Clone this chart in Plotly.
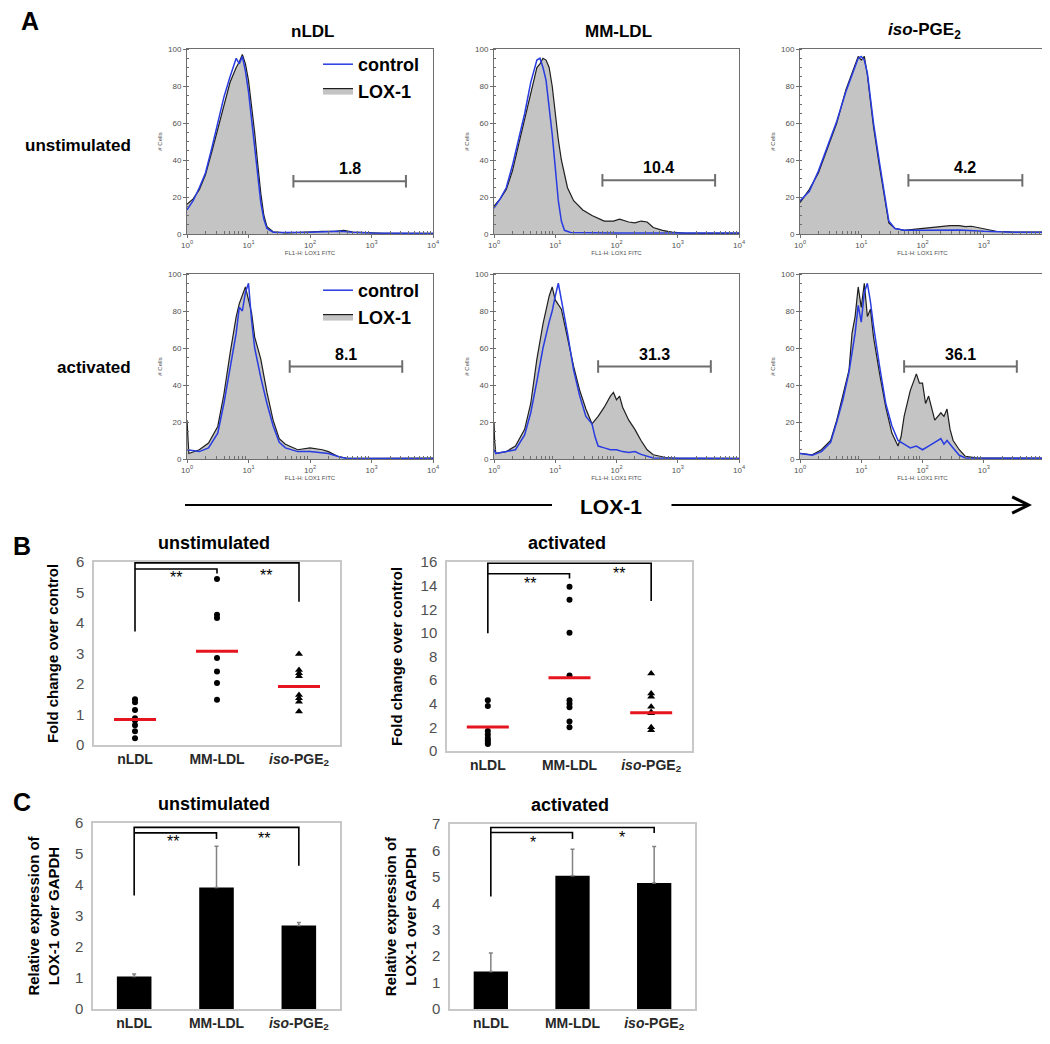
import math
import plotly.graph_objects as go

FONT = "Liberation Sans, Arial, sans-serif"
# page body adds an 8px margin around the figure, so lay out in page pixels
OFF = 8
W, H = 1042, 1036

# ---------------- Panel A: flow cytometry histograms ----------------
# x values are log10 decades of FL1-H fluorescence, y are "# Cells" (% of max)
col_titles = ["nLDL", "MM-LDL", "<i>iso</i>-PGE<sub>2</sub>"]
row_labels = ["unstimulated", "activated"]

# unstimulated, nLDL
h1_lox_x = [0, 0.1, 0.2, 0.3, 0.4, 0.5, 0.6, 0.7, 0.8, 0.85, 0.9, 0.95, 1.0, 1.05, 1.1, 1.15, 1.2, 1.25, 1.3, 1.4, 1.6, 1.8, 2.0, 2.2, 2.4, 2.55, 2.7, 2.9, 3.2, 3.6, 4.0]
h1_lox_y = [16, 19, 24, 32, 44, 57, 70, 82, 90, 93, 97, 92, 83, 70, 55, 38, 22, 10, 4, 1.2, 0.6, 0.8, 1.2, 1.5, 1.4, 2.0, 1.0, 0.6, 0.4, 0.3, 0.3]
h1_ctl_x = [0, 0.1, 0.2, 0.3, 0.4, 0.5, 0.6, 0.7, 0.75, 0.8, 0.85, 0.9, 0.95, 1.0, 1.05, 1.1, 1.15, 1.2, 1.25, 1.3, 1.4, 1.6, 2.0, 2.3, 2.5, 2.7, 3.0, 3.5, 4.0]
h1_ctl_y = [13, 18, 25, 33, 46, 60, 74, 85, 90, 95, 92, 96, 88, 77, 62, 46, 31, 17, 8, 3, 1, 0.8, 1.0, 1.3, 1.5, 1.0, 0.6, 0.4, 0.3]

# unstimulated, MM-LDL
h2_lox_x = [0, 0.1, 0.2, 0.3, 0.4, 0.5, 0.6, 0.7, 0.75, 0.8, 0.85, 0.9, 0.95, 1.0, 1.05, 1.1, 1.2, 1.3, 1.45, 1.6, 1.8, 1.95, 2.05, 2.2, 2.3, 2.4, 2.5, 2.6, 2.75, 2.9, 3.1, 3.5, 4.0]
h2_lox_y = [15, 19, 24, 34, 48, 62, 76, 90, 92, 95, 94, 90, 80, 64, 51, 40, 25, 18, 13, 10, 7, 7, 8, 6.5, 6, 7, 6.5, 3.5, 2, 1, 0.5, 0.3, 0.3]
h2_ctl_x = [0, 0.1, 0.2, 0.3, 0.4, 0.5, 0.6, 0.7, 0.75, 0.8, 0.85, 0.9, 0.95, 1.0, 1.05, 1.1, 1.15, 1.25, 1.5, 2.0, 3.0, 4.0]
h2_ctl_y = [14, 19, 25, 37, 51, 65, 82, 94, 95, 90, 83, 70, 54, 36, 18, 7, 2, 0.8, 0.6, 0.6, 0.5, 0.5]

# unstimulated, iso-PGE2
h3_lox_x = [0, 0.15, 0.3, 0.45, 0.6, 0.75, 0.9, 0.95, 1.0, 1.05, 1.1, 1.2, 1.3, 1.4, 1.45, 1.55, 1.7, 1.85, 2.0, 2.15, 2.3, 2.45, 2.6, 2.7, 2.8, 2.9, 3.0, 3.2, 3.5, 4.0]
h3_lox_y = [17, 24, 33, 47, 60, 78, 91, 96, 94, 96, 86, 58, 36, 16, 6, 3, 2, 2.5, 3, 3.5, 4, 4.5, 4.5, 4, 4.2, 3.5, 2.5, 1.5, 1, 1]
h3_ctl_x = [0, 0.15, 0.3, 0.45, 0.6, 0.75, 0.9, 0.95, 1.0, 1.05, 1.1, 1.2, 1.3, 1.4, 1.45, 1.55, 1.7, 2.0, 2.3, 2.6, 3.0, 3.5, 4.0]
h3_ctl_y = [18, 23, 34, 48, 61, 77, 90, 95, 96, 94, 87, 60, 38, 18, 7, 3, 2, 2, 2, 2.2, 1.5, 1, 1]

# activated, nLDL
h4_lox_x = [0, 0.01, 0.03, 0.2, 0.35, 0.5, 0.6, 0.7, 0.8, 0.85, 0.9, 0.95, 1.0, 1.05, 1.1, 1.2, 1.3, 1.4, 1.5, 1.6, 1.8, 2.0, 2.2, 2.3, 2.45, 2.6, 3.0, 3.5, 3.95, 4.0]
h4_lox_y = [21, 12, 3, 5, 8.6, 17.6, 35, 57, 77, 84, 88, 93, 86, 79, 66, 54, 36, 21, 11, 8, 5, 6, 5, 4, 1.5, 0.4, 0.3, 0.3, 0.6, 0.5]
h4_ctl_x = [0, 0.2, 0.35, 0.5, 0.6, 0.7, 0.8, 0.85, 0.9, 0.95, 1.0, 1.05, 1.1, 1.2, 1.3, 1.4, 1.5, 1.6, 1.8, 2.0, 2.3, 2.5, 2.6, 4.0]
h4_ctl_y = [5, 4, 6, 14, 30, 48, 68, 82, 80, 90, 95, 75, 60, 44, 30, 18, 9, 6, 4, 4, 3, 1, 0.3, 0.3]

# activated, MM-LDL
h5_lox_x = [0, 0.01, 0.03, 0.2, 0.35, 0.5, 0.6, 0.7, 0.8, 0.9, 0.95, 1.0, 1.1, 1.2, 1.3, 1.4, 1.5, 1.6, 1.7, 1.8, 1.9, 1.95, 2.0, 2.05, 2.1, 2.2, 2.3, 2.4, 2.5, 2.6, 2.8, 3.0, 4.0]
h5_lox_y = [20, 10, 3, 4, 7, 16, 30, 54, 73, 88, 93, 86, 81, 66, 50, 37, 27, 19, 23, 28, 34, 36, 32, 34, 28, 21, 16, 10, 5, 2.3, 0.8, 0.4, 0.4]
h5_ctl_x = [0, 0.03, 0.2, 0.35, 0.5, 0.6, 0.7, 0.8, 0.9, 0.95, 1.0, 1.05, 1.1, 1.15, 1.2, 1.3, 1.4, 1.5, 1.6, 1.65, 1.7, 1.8, 1.9, 2.0, 2.1, 2.2, 2.3, 2.4, 2.5, 2.6, 4.0]
h5_ctl_y = [5, 3, 4, 5, 13, 25, 42, 60, 74, 80, 88, 95, 86, 78, 68, 48, 34, 23, 19, 12, 7, 6, 5, 5, 4, 3.5, 4, 2.5, 1.5, 0.5, 0.3]

# activated, iso-PGE2
h6_lox_x = [0, 0.2, 0.35, 0.5, 0.6, 0.7, 0.8, 0.85, 0.9, 0.95, 1.0, 1.05, 1.1, 1.15, 1.2, 1.3, 1.4, 1.5, 1.6, 1.65, 1.7, 1.8, 1.85, 1.9, 1.95, 2.0, 2.05, 2.1, 2.2, 2.3, 2.35, 2.4, 2.45, 2.5, 2.6, 2.7, 2.9, 3.5, 4.0]
h6_lox_y = [3, 2.3, 5, 10, 21, 34, 48, 68, 77, 93, 82, 95, 77, 81, 66, 46, 28, 14, 7, 12, 23, 37, 41, 46, 41, 41, 30, 34, 21, 25, 23, 27, 16, 10, 5, 1.4, 0.5, 0.4, 0.5]
h6_ctl_x = [0, 0.2, 0.35, 0.5, 0.6, 0.7, 0.8, 0.9, 0.95, 1.0, 1.05, 1.1, 1.15, 1.2, 1.3, 1.4, 1.5, 1.6, 1.7, 1.8, 1.9, 2.0, 2.1, 2.2, 2.3, 2.35, 2.4, 2.5, 2.6, 2.7, 4.0]
h6_ctl_y = [3, 2, 4, 9, 20, 32, 47, 68, 83, 74, 90, 95, 85, 72, 50, 30, 18, 10, 8, 6, 7, 5, 7, 9, 11, 8, 10, 6, 2, 0.6, 0.4]

# gates (marker bars) with % positive
gate_lo = [1.73, 1.77, 1.77, 1.67, 1.70, 1.70]
gate_hi = [3.56, 3.61, 3.63, 3.50, 3.54, 3.54]
gate_y = [28.5, 29, 29, 50, 50, 50]
gate_pct = ["1.8", "10.4", "4.2", "8.1", "31.3", "36.1"]

# ---------------- Panel B: fold change scatter ----------------
cats = ["nLDL", "MM-LDL", "<i>iso</i>-PGE<sub>2</sub>"]
b_un_nldl = [1.5, 1.4, 1.15, 0.88, 0.8, 0.65, 0.45, 0.22]
b_un_mm = [5.44, 4.27, 4.16, 2.85, 2.41, 2.03, 1.48]
b_un_iso = [2.98, 2.46, 2.35, 2.25, 1.64, 1.53, 1.42, 1.1]
b_un_mean = [0.84, 3.07, 1.92]
b_act_nldl = [4.3, 3.8, 1.7, 1.4, 1.1, 0.9, 0.7, 0.6]
b_act_mm = [13.9, 12.8, 10.0, 6.4, 4.3, 4.0, 3.7, 2.5, 2.0]
b_act_iso = [6.57, 4.87, 4.6, 3.74, 3.3, 3.2, 2.0, 1.76]
b_act_mean = [2.04, 6.2, 3.23]

# ---------------- Panel C: qPCR bars ----------------
c_un = [1.05, 3.92, 2.69]
c_un_err = [0.08, 1.33, 0.1]
c_act = [1.42, 5.04, 4.77]
c_act_err = [0.7, 1.0, 1.38]

# significance brackets: outer top, inner top, nLDL leg end, MM tick end, iso leg end
br_b_un = [5.97, 5.77, 3.72, 5.62, 4.7]
br_b_act = [15.9, 15.0, 9.97, 14.6, 12.7]
br_c_un = [5.86, 5.68, 3.66, 5.48, 4.62]
br_c_act = [6.87, 6.68, 4.26, 6.43, 6.66]
stars_b_un = [("**", 0.5, 5.5), ("**", 1.6, 5.55)]
stars_b_act = [("**", 0.52, 14.2), ("**", 1.6, 15.0)]
stars_c_un = [("**", 0.47, 5.4), ("**", 1.58, 5.5)]
stars_c_act = [("*", 0.52, 6.3), ("*", 1.6, 6.5)]


def dx(p):
    return (p - OFF) / W


def dy(p):
    return 1 - (p - OFF) / H


def paper_text(x, y, text, size, xanchor="center"):
    return dict(x=dx(x), y=dy(y), xref="paper", yref="paper", text=text, showarrow=False,
                xanchor=xanchor, yanchor="middle", font=dict(size=size, color="black", family=FONT))


fig = go.Figure()
layout = {}
annotations = []
shapes = []

# histogram grid geometry (page pixels)
cols_px = [(187, 433), (494, 739), (800, 1045)]
rows_px = [(49, 234), (274, 459)]
hists = [
    (h1_lox_x, h1_lox_y, h1_ctl_x, h1_ctl_y),
    (h2_lox_x, h2_lox_y, h2_ctl_x, h2_ctl_y),
    (h3_lox_x, h3_lox_y, h3_ctl_x, h3_ctl_y),
    (h4_lox_x, h4_lox_y, h4_ctl_x, h4_ctl_y),
    (h5_lox_x, h5_lox_y, h5_ctl_x, h5_ctl_y),
    (h6_lox_x, h6_lox_y, h6_ctl_x, h6_ctl_y),
]
minor_x = [d + math.log10(m) for d in range(4) for m in range(2, 10)]
grey = "rgb(110,110,110)"

for i, (lx, ly, cx, cy) in enumerate(hists):
    r, c = divmod(i, 3)
    n = i + 1
    sfx = "" if n == 1 else str(n)
    xa, ya = "x" + sfx, "y" + sfx
    leg = "legend" if i == 0 else "legend2"
    show = i in (0, 3)
    fig.add_trace(go.Scatter(
        x=lx, y=ly, xaxis=xa, yaxis=ya, mode="lines", fill="tozeroy",
        fillcolor="rgb(196,196,196)", line=dict(color="rgb(30,30,30)", width=1.2),
        name="<b>LOX-1</b>", showlegend=show, legend=leg, legendrank=2))
    fig.add_trace(go.Scatter(
        x=cx, y=cy, xaxis=xa, yaxis=ya, mode="lines",
        line=dict(color="rgb(40,60,225)", width=1.5),
        name="<b>control</b>", showlegend=show, legend=leg, legendrank=1))
    # gate bar
    fig.add_trace(go.Scatter(
        x=[gate_lo[i], gate_hi[i]], y=[gate_y[i], gate_y[i]], xaxis=xa, yaxis=ya,
        mode="lines+markers", line=dict(color=grey, width=2),
        marker=dict(symbol="line-ns", size=9, line=dict(color=grey, width=2)),
        showlegend=False, hoverinfo="skip"))
    annotations.append(dict(
        x=(gate_lo[i] + gate_hi[i]) / 2, y=gate_y[i] + 1, xref=xa, yref=ya,
        text="<b>%s</b>" % gate_pct[i], showarrow=False, xanchor="center", yanchor="bottom",
        font=dict(size=16, color="black", family=FONT)))
    x0, x1 = cols_px[c]
    y0, y1 = rows_px[r]
    layout["xaxis" + sfx] = dict(
        domain=[dx(x0), dx(x1)], anchor=ya, range=[0, 4], automargin=False,
        tickvals=[0, 1, 2, 3, 4],
        ticktext=["10<sup>%d</sup>" % k for k in range(5)],
        ticks="outside", ticklen=3, tickcolor=grey,
        minor=dict(tickmode="array", tickvals=minor_x, ticks="inside", ticklen=3, tickcolor=grey),
        showline=True, linecolor=grey, mirror=True, showgrid=False, zeroline=False,
        tickfont=dict(size=8, color="rgb(80,80,80)", family=FONT),
        title=dict(text="FL1-H: LOX1 FITC", font=dict(size=6, color="rgb(80,80,80)", family=FONT), standoff=0))
    layout["yaxis" + sfx] = dict(
        domain=[dy(y1), dy(y0)], anchor=xa, range=[0, 100], automargin=False,
        tickvals=[0, 20, 40, 60, 80, 100], ticks="outside", ticklen=3, tickcolor=grey,
        minor=dict(dtick=5, ticks="inside", ticklen=2, tickcolor=grey),
        showline=True, linecolor=grey, mirror=True, showgrid=False, zeroline=False,
        tickfont=dict(size=8, color="rgb(80,80,80)", family=FONT),
        title=dict(text="# Cells", font=dict(size=6, color="rgb(80,80,80)", family=FONT), standoff=4))

for c, t in enumerate(col_titles):
    annotations.append(paper_text(sum(cols_px[c]) / 2 + 2, 31, "<b>%s</b>" % t, 17))
for r, t in enumerate(row_labels):
    annotations.append(paper_text(133, [145, 368][r], "<b>%s</b>" % t, 17, xanchor="right"))

# long LOX-1 arrow under panel A
shapes.append(dict(type="line", xref="paper", yref="paper", x0=dx(185), x1=dx(552),
                   y0=dy(505), y1=dy(505), line=dict(color="black", width=2)))
annotations.append(dict(x=dx(1032), y=dy(505), ax=670 - 1032, ay=0, xref="paper", yref="paper",
                        text="", showarrow=True,
                        arrowhead=5, arrowsize=1.6, arrowwidth=2, arrowcolor="black"))
annotations.append(paper_text(611, 506, "<b>LOX-1</b>", 21))

# panel letters
for letter, (px_, py_) in zip("ABC", [(30, 21), (22, 546), (22, 802)]):
    annotations.append(paper_text(px_, py_, "<b>%s</b>" % letter, 25))


def add_brackets(xa, ya, br, stars):
    top, inner, leg_n, leg_m, leg_i = br
    fig.add_trace(go.Scatter(x=[cats[0], cats[0], cats[2], cats[2]], y=[leg_n, top, top, leg_i],
                             xaxis=xa, yaxis=ya, mode="lines", line=dict(color="black", width=1.6),
                             showlegend=False, hoverinfo="skip"))
    fig.add_trace(go.Scatter(x=[cats[0], cats[1], cats[1]], y=[inner, inner, leg_m],
                             xaxis=xa, yaxis=ya, mode="lines", line=dict(color="black", width=1.6),
                             showlegend=False, hoverinfo="skip"))
    for txt, sx, sy in stars:
        annotations.append(dict(x=sx, y=sy, xref=xa, yref=ya, text=txt, showarrow=False,
                                xanchor="center", yanchor="middle",
                                font=dict(size=16, color="black", family=FONT)))


def cat_axes(sfx, xpx, ypx, yrange, dtick, title, ytitle, standoff):
    xa, ya = "x" + sfx, "y" + sfx
    layout["xaxis" + sfx] = dict(
        domain=[dx(xpx[0]), dx(xpx[1])], anchor=ya, type="category", automargin=False,
        categoryorder="array", categoryarray=cats, range=[-0.5, 2.5],
        showline=True, linecolor="rgb(200,200,200)", linewidth=1.5, mirror=True,
        showgrid=False, ticks="", tickfont=dict(size=14, color="rgb(40,40,40)", family=FONT, weight="bold"))
    layout["yaxis" + sfx] = dict(
        domain=[dy(ypx[1]), dy(ypx[0])], anchor=xa, range=yrange, dtick=dtick, automargin=False,
        showline=True, linecolor="rgb(200,200,200)", linewidth=1.5, mirror=True,
        showgrid=False, zeroline=False, ticks="", ticklabelstandoff=5,
        tickfont=dict(size=15, color="rgb(80,80,80)", family=FONT),
        title=dict(text=ytitle, font=dict(size=15, color="black", family=FONT), standoff=standoff))
    annotations.append(paper_text(sum(xpx) / 2 - 3, ypx[0] - 19, "<b>%s</b>" % title, 18))
    return xa, ya


# Panel B scatter plots
for sfx, xpx, ypx, yr, dt, title, pts, means, br, st in [
    ("7", (94, 340), (562, 745), [0, 6], 1, "unstimulated",
     (b_un_nldl, b_un_mm, b_un_iso), b_un_mean, br_b_un, stars_b_un),
    ("8", (447, 692), (562, 751), [0, 16], 2, "activated",
     (b_act_nldl, b_act_mm, b_act_iso), b_act_mean, br_b_act, stars_b_act),
]:
    xa, ya = cat_axes(sfx, xpx, ypx, yr, dt, title, "<b>Fold change over control</b>", 14)
    for k, vals in enumerate(pts):
        fig.add_trace(go.Scatter(
            x=[cats[k]] * len(vals), y=vals, xaxis=xa, yaxis=ya, mode="markers",
            marker=dict(symbol="triangle-up" if k == 2 else "circle", size=7 if k == 2 else 6, color="black"),
            showlegend=False))
    fig.add_trace(go.Scatter(
        x=cats, y=means, xaxis=xa, yaxis=ya, mode="markers",
        marker=dict(symbol="line-ew", size=30, line=dict(color="rgb(230,20,30)", width=3)),
        showlegend=False))
    add_brackets(xa, ya, br, st)

# Panel C bar charts
for sfx, xpx, ypx, yr, title, vals, errs, br, st in [
    ("9", (93, 340), (823, 1009), [0, 6], "unstimulated", c_un, c_un_err, br_c_un, stars_c_un),
    ("10", (450, 695), (824, 1009), [0, 7], "activated", c_act, c_act_err, br_c_act, stars_c_act),
]:
    xa, ya = cat_axes(sfx, xpx, ypx, yr, 1, title,
                      "<b>Relative expression of<br>LOX-1 over GAPDH</b>", 12)
    fig.add_trace(go.Bar(
        x=cats, y=vals, xaxis=xa, yaxis=ya, width=0.42, marker=dict(color="black", line=dict(width=0)),
        error_y=dict(type="data", array=errs, arrayminus=[0, 0, 0], symmetric=False,
                     color="rgb(130,130,130)", thickness=1.5, width=2),
        showlegend=False))
    add_brackets(xa, ya, br, st)

legend_style = dict(xanchor="left", yanchor="top", bgcolor="rgba(0,0,0,0)", itemwidth=30,
                    font=dict(size=18, color="black", family=FONT), tracegroupgap=0)
layout["legend"] = dict(x=dx(318), y=dy(46), **legend_style)
layout["legend2"] = dict(x=dx(318), y=dy(272), **legend_style)

fig.update_layout(
    width=W, height=H, margin=dict(l=0, r=0, t=0, b=0),
    paper_bgcolor="white", plot_bgcolor="white",
    font=dict(family=FONT), annotations=annotations, shapes=shapes,
    **layout)

fig.write_html("out.html")
